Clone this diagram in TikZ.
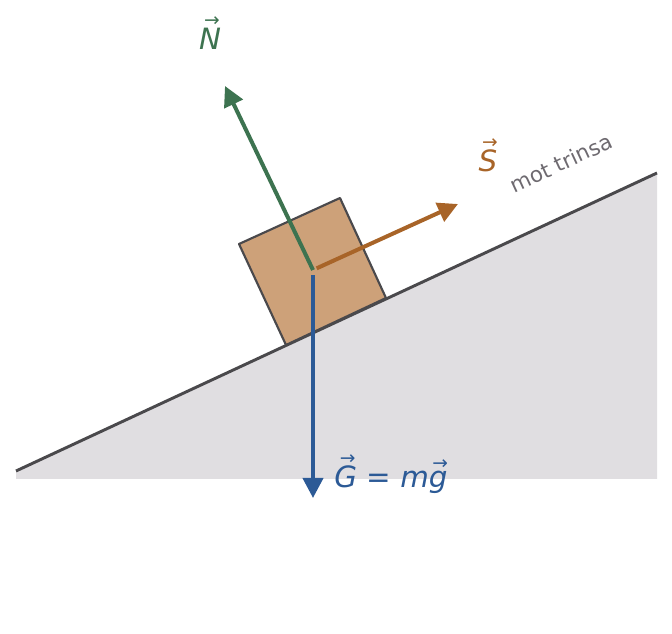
\documentclass[tikz,border=0pt]{standalone}
\usepackage{fontspec}
\setmainfont{DejaVu Sans}
\usetikzlibrary{arrows.meta}
\definecolor{ngreen}{HTML}{3D7350}
\definecolor{sbrown}{HTML}{A86428}
\definecolor{gblue}{HTML}{2C5A96}
\definecolor{boxfill}{HTML}{CDA179}
\definecolor{slopefill}{HTML}{E0DEE1}
\definecolor{slopeline}{HTML}{4A494C}
\definecolor{notegray}{HTML}{6E6A70}
\newcommand{\vlab}[1]{\setbox0\hbox{\itshape #1}%
  \ooalign{\copy0\cr\hidewidth\raisebox{\dimexpr\ht0+1.5pt\relax}{\fontsize{14}{14}\selectfont\kern0.2em →}\hidewidth\cr}}
\begin{document}
\begin{tikzpicture}[x=0.75pt,y=-0.75pt]
      \useasboundingbox (0,0) rectangle (672,634);
      % incline
      \fill[slopefill] (16,471) -- (657,173) -- (657,479) -- (16,479) -- cycle;
      \draw[slopeline,line width=2.2pt] (16,471) -- (657,173);
      % block
      \draw[fill=boxfill,draw=slopeline,line width=1.6pt,line join=round]
        (286,345) -- (386,298) -- (340,198) -- (239,244) -- cycle;
      \begin{scope}[every node/.style={inner sep=0pt}]
        \coordinate (c) at (313,270);
        \coordinate (n) at (225,86);
        \coordinate (s) at (458,204);
        \coordinate (g) at (313,498);
        \node[text=ngreen,font=\fontsize{22}{24}\selectfont] (nlab) at (210,39) {\vlab{N}};
        \node[text=sbrown,font=\fontsize{22}{24}\selectfont] (slab) at (488,161) {\vlab{S}};
        \node[text=notegray,font=\fontsize{16}{18}\selectfont,rotate=24.9] (note) at (561,163) {mot trinsa};
        \node[text=gblue,font=\fontsize{22}{24}\selectfont] (glab) at (391,477)
          {\vlab{G} = {\itshape m}\vlab{g}};
      \end{scope}
      \begin{scope}[every edge/.style={draw,line width=3pt,-{Triangle[length=15pt,width=15pt]}}]
        \path (c) edge[ngreen] (n);
        \path (c) edge[sbrown,shorten <=3pt] (s);
        \path (c) edge[gblue,shorten <=4pt] (g);
      \end{scope}
    \end{tikzpicture}
\end{document}
